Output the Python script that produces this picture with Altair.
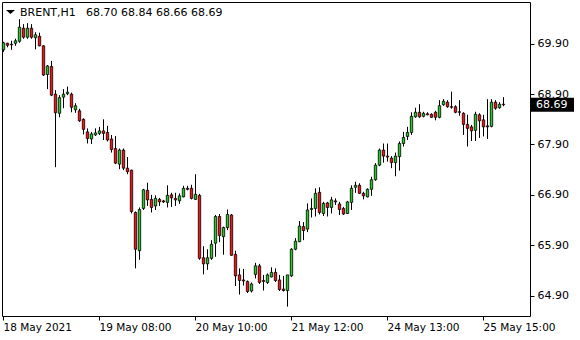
import altair as alt
import pandas as pd

symbol = "BRENT,H1"

opens = [69.78, 69.91, 69.89, 69.91, 69.95, 70.21, 70.03, 70.21, 70.02, 70.05,
         69.86, 69.29, 69.45, 68.90, 68.52, 68.84, 68.91, 68.90, 68.59, 68.57,
         68.40, 68.15, 68.01, 68.09, 68.12, 68.17, 68.14, 68.01, 67.82, 67.51,
         67.79, 67.43, 67.39, 66.55, 65.79, 66.63, 66.99, 66.81, 66.68, 66.81,
         66.78, 66.75, 66.90, 66.83, 66.78, 66.86, 67.03, 67.03, 66.81, 66.89,
         65.65, 65.53, 65.64, 65.94, 66.47, 66.07, 66.25, 66.50, 65.72, 65.31,
         65.21, 65.18, 64.99, 65.32, 65.49, 65.20, 65.16, 65.27, 65.36, 65.21,
         65.03, 65.00, 65.29, 65.82, 65.97, 66.27, 66.22, 66.61, 66.63, 66.95,
         66.53, 66.74, 66.65, 66.78, 66.72, 66.63, 66.53, 66.75, 67.05, 67.09,
         66.93, 66.86, 67.01, 67.20, 67.49, 67.79, 67.67, 67.63, 67.54, 67.66,
         67.92, 68.06, 68.14, 68.45, 68.54, 68.46, 68.51, 68.50, 68.54, 68.44,
         68.69, 68.74, 68.65, 68.65, 68.55, 68.52, 68.30, 68.25, 68.18, 68.49,
         68.39, 68.27, 68.26, 68.74, 68.63, 68.70]
highs = [69.94, 69.92, 69.96, 70.00, 70.39, 70.29, 70.31, 70.29, 70.13, 70.12,
         69.87, 69.48, 69.56, 68.98, 68.88, 69.00, 69.05, 68.93, 68.72, 68.61,
         68.42, 68.22, 68.15, 68.22, 68.25, 68.40, 68.27, 68.09, 68.07, 67.82,
         67.82, 67.65, 67.40, 66.57, 66.65, 67.02, 67.14, 66.90, 66.89, 66.84,
         66.80, 67.09, 66.94, 66.94, 66.93, 67.08, 67.08, 67.10, 67.31, 66.92,
         65.88, 65.82, 66.00, 66.50, 66.52, 66.27, 66.61, 66.52, 65.79, 65.44,
         65.43, 65.20, 65.16, 65.55, 65.53, 65.31, 65.34, 65.46, 65.44, 65.31,
         65.29, 65.31, 65.84, 66.04, 66.38, 66.36, 66.73, 66.83, 67.03, 67.05,
         66.76, 66.76, 66.86, 66.83, 66.76, 66.66, 66.78, 67.09, 67.16, 67.13,
         66.96, 67.03, 67.26, 67.53, 67.82, 67.92, 67.92, 67.67, 67.74, 67.96,
         68.15, 68.25, 68.54, 68.63, 68.70, 68.55, 68.54, 68.52, 68.57, 68.78,
         68.80, 68.78, 68.95, 68.68, 68.78, 68.54, 68.49, 68.29, 68.55, 68.52,
         68.49, 68.80, 68.80, 68.78, 68.74, 68.84]
lows = [69.74, 69.83, 69.78, 69.86, 69.92, 70.00, 70.00, 70.00, 69.79, 69.85,
        69.26, 69.00, 68.86, 67.45, 68.44, 68.62, 68.88, 68.54, 68.53, 68.35,
        68.10, 67.92, 67.91, 68.07, 68.09, 67.99, 67.96, 67.74, 67.51, 67.41,
        67.39, 67.31, 66.53, 65.44, 65.61, 66.60, 66.68, 66.55, 66.60, 66.68,
        66.74, 66.65, 66.66, 66.68, 66.72, 66.85, 66.99, 66.81, 66.80, 65.61,
        65.32, 65.41, 65.61, 65.67, 65.96, 65.71, 66.20, 65.69, 65.09, 64.92,
        65.10, 64.95, 64.96, 65.24, 65.13, 65.00, 65.13, 65.26, 65.17, 64.99,
        64.98, 64.68, 65.27, 65.80, 65.96, 66.00, 66.16, 66.45, 66.47, 66.51,
        66.48, 66.47, 66.53, 66.70, 66.50, 66.50, 66.52, 66.60, 66.94, 66.92,
        66.81, 66.85, 66.88, 67.18, 67.47, 67.54, 67.56, 67.43, 67.27, 67.38,
        67.86, 67.99, 68.09, 68.43, 68.43, 68.44, 68.48, 68.43, 68.38, 68.42,
        68.67, 68.63, 68.61, 68.52, 68.47, 68.09, 67.86, 67.97, 67.97, 68.03,
        68.06, 68.01, 68.24, 68.59, 68.61, 68.66]
closes = [69.92, 69.87, 69.88, 69.96, 70.23, 70.03, 70.21, 70.03, 70.08, 69.86,
          69.28, 69.46, 68.88, 68.53, 68.83, 68.90, 68.94, 68.64, 68.67, 68.37,
          68.20, 68.02, 68.11, 68.13, 68.17, 68.12, 67.99, 67.80, 67.53, 67.79,
          67.43, 67.36, 66.57, 65.82, 66.61, 67.00, 66.80, 66.65, 66.83, 66.76,
          66.76, 66.89, 66.84, 66.80, 66.88, 67.03, 67.01, 66.83, 66.91, 65.64,
          65.53, 65.65, 65.92, 66.47, 66.09, 66.25, 66.51, 65.70, 65.29, 65.20,
          65.19, 64.98, 65.13, 65.49, 65.16, 65.18, 65.31, 65.36, 65.20, 65.02,
          65.00, 65.31, 65.82, 65.98, 66.28, 66.19, 66.60, 66.63, 66.93, 66.55,
          66.73, 66.65, 66.80, 66.76, 66.61, 66.52, 66.76, 67.03, 67.09, 66.93,
          66.88, 67.01, 67.20, 67.49, 67.79, 67.67, 67.65, 67.54, 67.67, 67.92,
          68.04, 68.14, 68.46, 68.54, 68.45, 68.52, 68.49, 68.44, 68.44, 68.67,
          68.76, 68.65, 68.64, 68.54, 68.54, 68.30, 68.22, 68.17, 68.50, 68.37,
          68.25, 68.25, 68.74, 68.62, 68.70, 68.69]

tick_idx = [0, 24, 48, 72, 96, 120]
tick_lbl = ["18 May 2021", "19 May 08:00", "20 May 10:00",
            "21 May 12:00", "24 May 13:00", "25 May 15:00"]
price_ticks = [64.9, 65.9, 66.9, 67.9, 68.9, 69.9]

FONT = "DejaVu Sans"
GREEN = "#22cc22"
RED = "#ff1010"

n = len(opens)
df = pd.DataFrame({"i": list(range(n)), "o": opens, "h": highs, "l": lows, "c": closes})
df["dir"] = ["up" if c >= o else "down" for o, c in zip(opens, closes)]

label_expr = ""
for k, t in zip(tick_idx, tick_lbl):
    label_expr += f"datum.value=={k}?'{t}':"
label_expr += "''"

xscale = alt.Scale(domain=[-0.25, 131.75], nice=False, zero=False, padding=0)
yscale = alt.Scale(domain=[64.494, 70.730], nice=False, zero=False, padding=0)

x_axis = alt.Axis(values=tick_idx, labelExpr=label_expr, grid=False, domain=False,
                  tickSize=4, tickColor="black", tickWidth=1, title=None,
                  labelColor="black", labelFont=FONT, labelFontSize=10.5,
                  labelAlign="left", labelBaseline="top", labelPadding=2,
                  labelFlush=False, labelOverlap=False, labelBound=False)
y_axis = alt.Axis(orient="right", values=price_ticks, format=".2f", grid=False, title=None,
                  domain=False, tickSize=4, tickColor="black", tickWidth=1,
                  labelColor="black", labelFont=FONT, labelFontSize=11,
                  labelPadding=3, labelAlign="left", labelBaseline="middle",
                  labelOverlap=False, labelFlush=False, labelBound=False)


def X(field):
    return alt.X(field, scale=xscale, axis=x_axis, title=None)


def Y(field):
    return alt.Y(field, scale=yscale, axis=y_axis, title=None)


color_enc = alt.Color("dir:N", scale=alt.Scale(domain=["up", "down"], range=[GREEN, RED]),
                      legend=None)

wicks = alt.Chart(df).mark_rule(color="black", strokeWidth=1, xOffset=0.5).encode(
    x=X("i:Q"), y=Y("l:Q"), y2="h:Q")

bodies = alt.Chart(df).mark_bar(size=2.4, stroke="black", strokeWidth=0.8, opacity=1,
                                xOffset=0.5).encode(
    x=X("i:Q"), y=Y("o:Q"), y2="c:Q", color=color_enc)

last = pd.DataFrame({"p": [closes[-1]]})
box = alt.Chart(last).transform_calculate(
    top="datum.p + 0.14", bot="datum.p - 0.14"
).mark_rect(color="black").encode(
    x=alt.value(529), x2=alt.value(572),
    y=Y("top:Q"), y2="bot:Q")

box_text = alt.Chart(last).mark_text(color="white", align="left", baseline="middle",
                                     font=FONT, fontSize=11).encode(
    x=alt.value(534), y=Y("p:Q"),
    text=alt.Text("p:Q", format=".2f"))

ohlc_text = f"{opens[-1]:.2f} {highs[-1]:.2f} {lows[-1]:.2f} {closes[-1]:.2f}"
title_df = pd.DataFrame({"a": [0]})
tri = alt.Chart(title_df).mark_point(
    shape="M -1 -0.45 L 1 -0.45 L 0 0.45 Z", filled=True, color="black", size=81, opacity=1
).encode(x=alt.value(8.5), y=alt.value(10))
name_txt = alt.Chart(title_df).mark_text(
    text=symbol, align="left", baseline="alphabetic", font=FONT, fontSize=11, color="black"
).encode(x=alt.value(18), y=alt.value(14))
ohlc_txt = alt.Chart(title_df).mark_text(
    text=ohlc_text, align="left", baseline="alphabetic", font=FONT, fontSize=11, color="black"
).encode(x=alt.value(84), y=alt.value(14))

chart = alt.layer(wicks, bodies, box, box_text, tri, name_txt, ohlc_txt).properties(
    width=528, height=314,
    padding={"left": 2, "top": 2, "right": 50, "bottom": 24},
    autosize=alt.AutoSizeParams(type="none"),
    background="white",
).configure_view(stroke="black", strokeWidth=1)

chart.save("out.html", embed_options={"renderer": "svg", "actions": False})
